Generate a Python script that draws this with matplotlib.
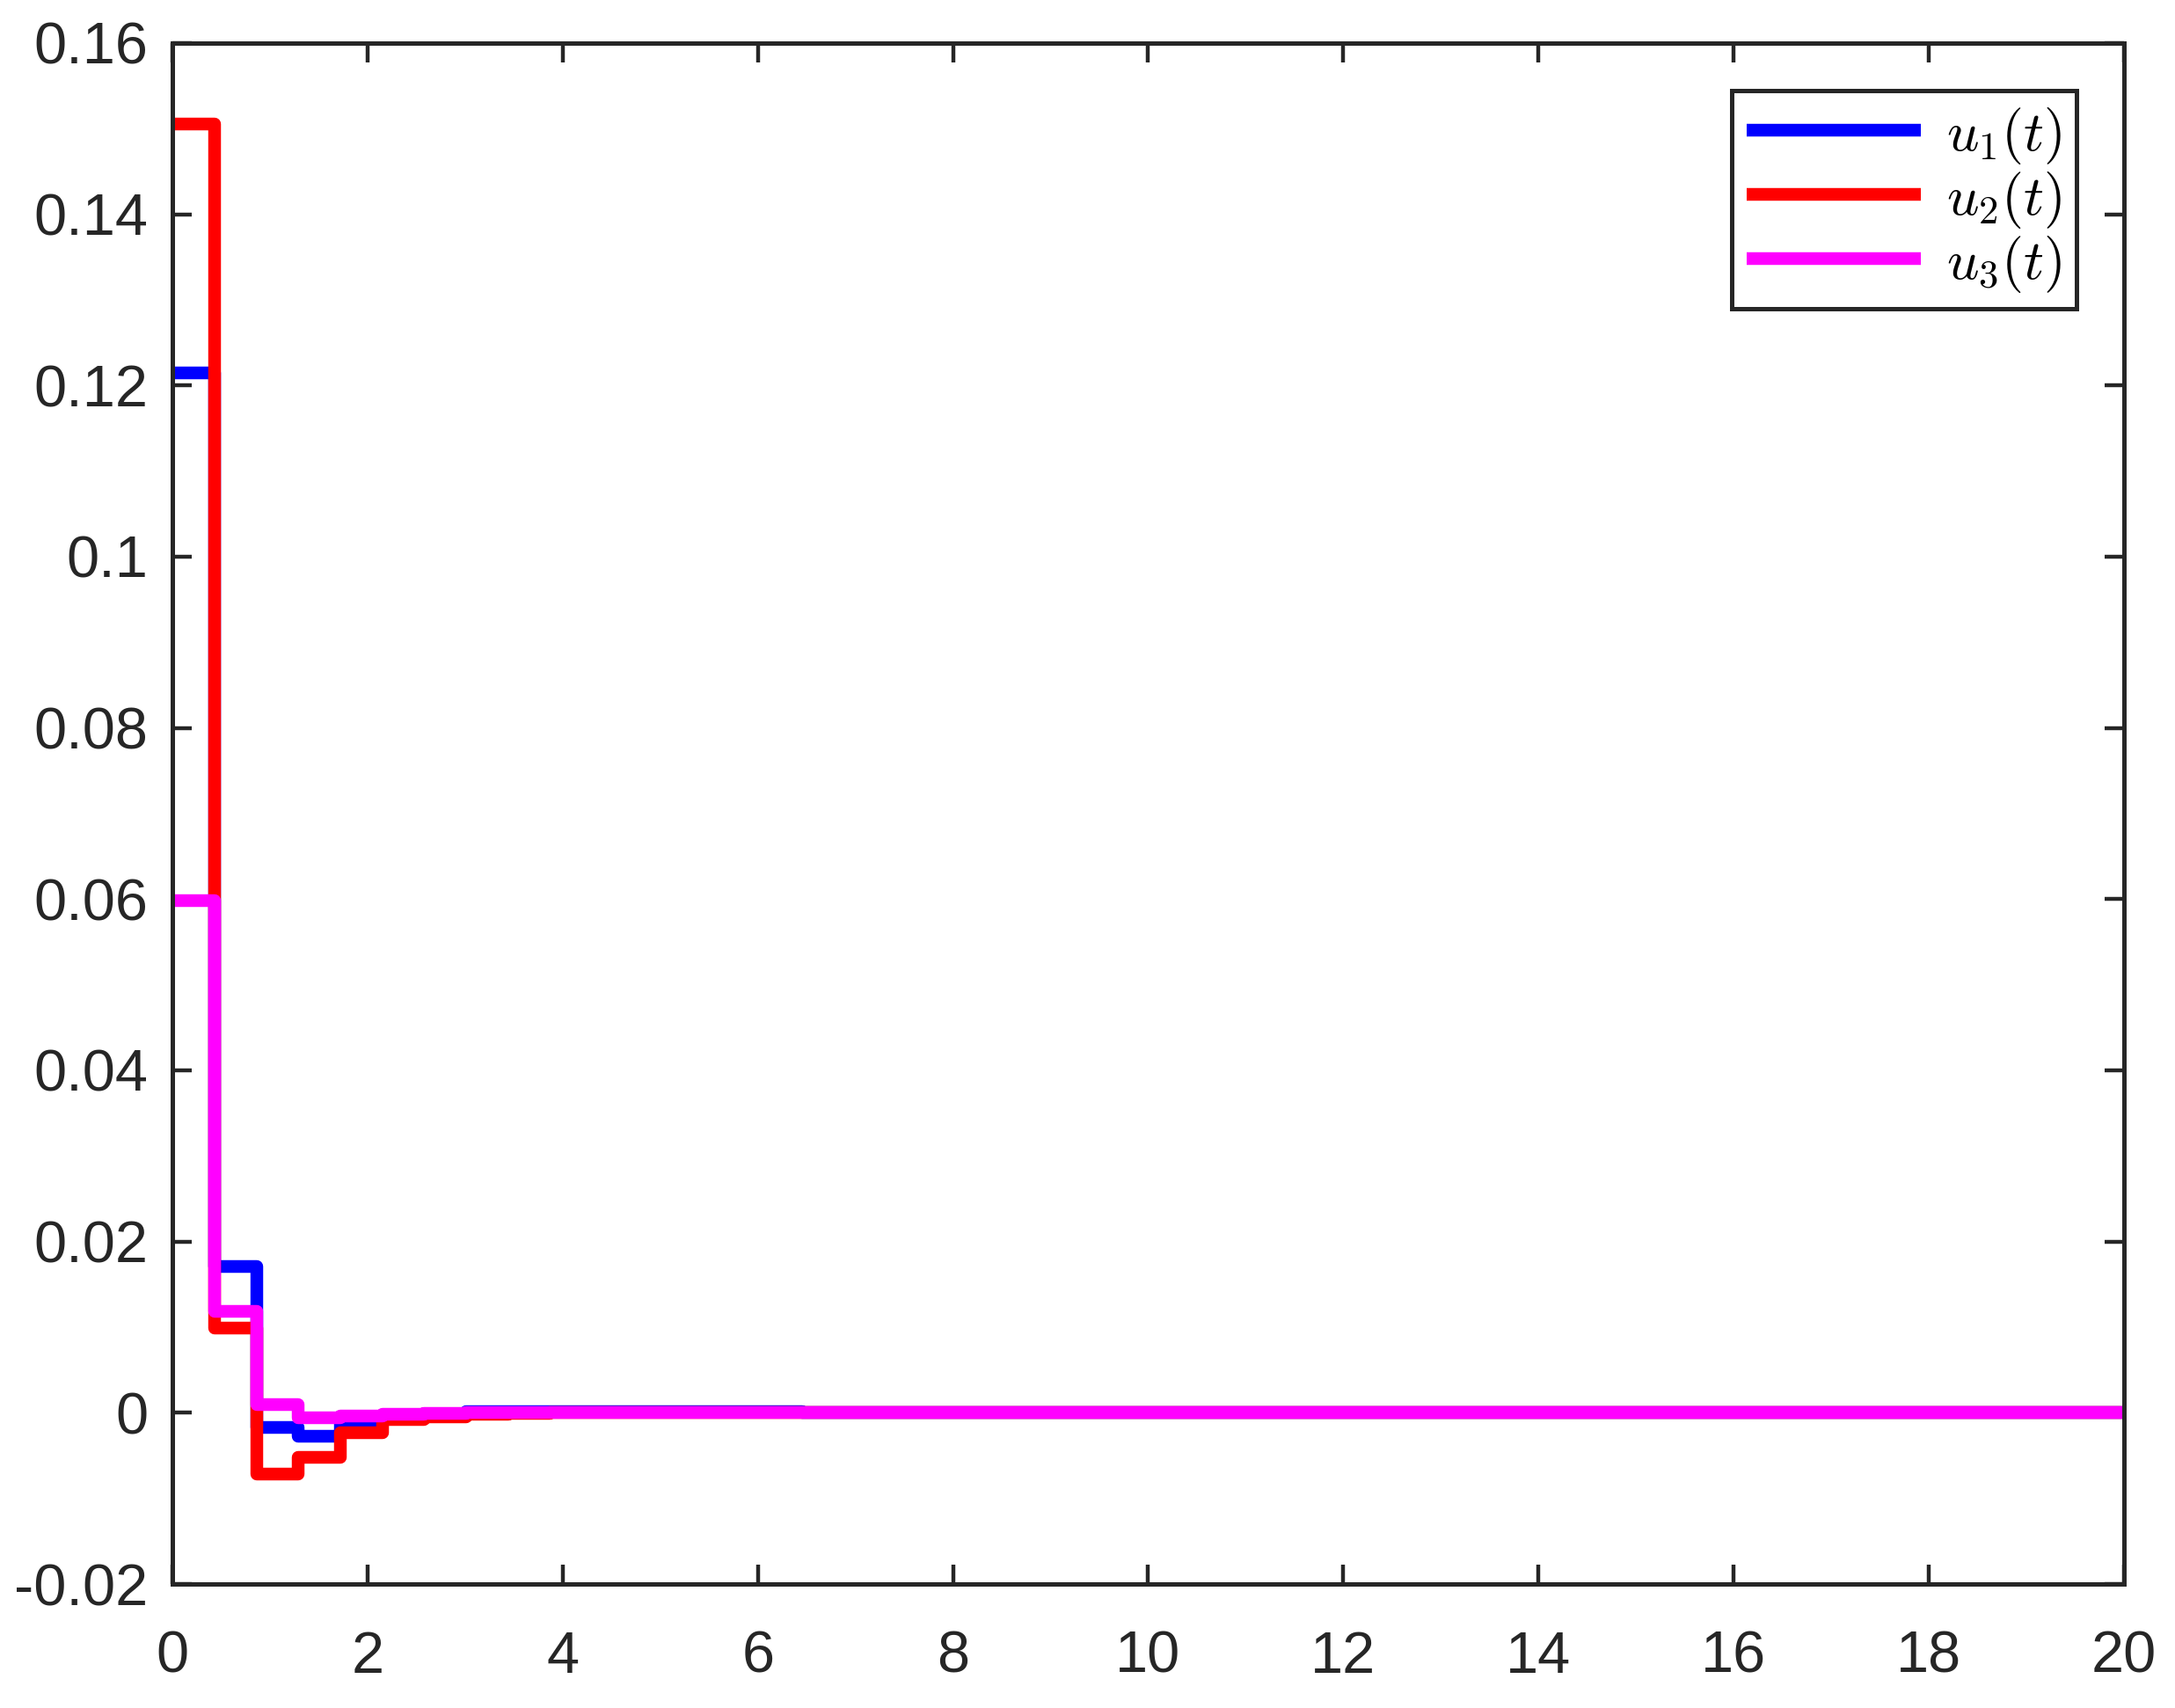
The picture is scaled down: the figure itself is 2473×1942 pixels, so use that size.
import numpy as np
import matplotlib
matplotlib.use("Agg")
import matplotlib.pyplot as plt
from matplotlib.ticker import FuncFormatter

plt.rcParams['font.family'] = ['Liberation Sans', 'DejaVu Sans']
plt.rcParams['mathtext.fontset'] = 'cm'

# Sample period and step values (zero-order hold)
dt = 0.43
u1 = [0.1215, 0.0171, -0.0017, -0.0027, -0.0010, -0.0004, -0.0002, 0.0001, 0.0001, 0.0001,
      0.0001, 0.0001, 0.0001, 0.0001, 0.0001, 0.0, 0.0]
u2 = [0.1505, 0.0099, -0.0072, -0.0052, -0.0023, -0.0008, -0.0005, -0.0002, -0.0001, 0.0,
      0.0, 0.0, 0.0, 0.0, 0.0, 0.0, 0.0]
u3 = [0.0598, 0.0119, 0.0010, -0.0006, -0.0004, -0.0002, -0.0001, 0.0, 0.0, 0.0,
      0.0, 0.0, 0.0, 0.0, 0.0, 0.0, 0.0]
t_end = 20

labels = [r'$u_1(t)$', r'$u_2(t)$', r'$u_3(t)$']
colors = ['#0000ff', '#ff0000', '#ff00ff']

fig = plt.figure(figsize=(12.365, 9.71), dpi=200)
ax = fig.add_axes([0.0793, 0.0726, 0.8972, 0.9022])

for u, c, lab in zip([u1, u2, u3], colors, labels):
    t = list(np.arange(len(u)) * dt) + [t_end]
    vals = u + [u[-1]]
    ax.step(t, vals, where='post', color=c, lw=5.2, label=lab,
            solid_joinstyle='round', solid_capstyle='butt')

ax.set_xlim(0, 20)
ax.set_ylim(-0.02, 0.16)
ax.set_xticks(np.arange(0, 21, 2))
ax.set_yticks(np.arange(-0.02, 0.161, 0.02))
ax.yaxis.set_major_formatter(FuncFormatter(lambda v, p: '%g' % round(v, 4)))

ax.tick_params(direction='in', length=8, width=1.6, top=True, right=True,
               labelsize=24, colors='#262626')
ax.tick_params(axis='x', pad=19)
ax.tick_params(axis='y', pad=10)
for s in ax.spines.values():
    s.set_linewidth(1.8)
    s.set_color('#262626')

leg = ax.legend(loc='upper right', fontsize=23, handlelength=3.1, fancybox=False,
                framealpha=1, edgecolor='#262626', borderaxespad=0.85,
                labelspacing=0.06, handletextpad=0.45, borderpad=0.26)
leg.get_frame().set_linewidth(1.8)
for txt in leg.get_texts():
    txt.set_color('black')

fig.savefig('out.png', dpi=200)
